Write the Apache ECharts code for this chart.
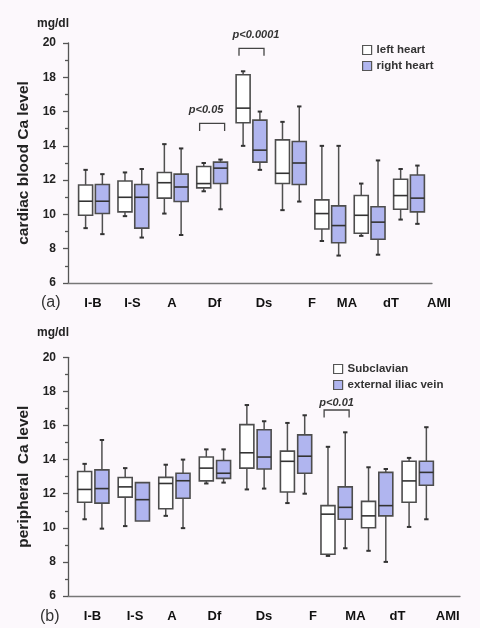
<!DOCTYPE html>
<html><head><meta charset="utf-8">
<script src="https://cdn.jsdelivr.net/npm/echarts@6/dist/echarts.min.js"></script>
<style>html,body{margin:0;padding:0;background:#fff}#c{width:480px;height:628px}</style>
</head><body><div id="c"></div>
<script>
// ---- data ----
const categoriesA = ['I-B','I-S','A','Df','Ds','F','MA','dT','AMI'];
const categoriesB = ['I-B','I-S','A','Df','Ds','F','MA','dT','AMI'];
const yTicks = [6, 8, 10, 12, 14, 16, 18, 20];
// each row: [lower whisker, Q1, median, Q3, upper whisker]  (mg/dl)
const leftHeart = [
  [9.2, 9.95, 10.77, 11.72, 12.6],
  [9.9, 10.15, 11.0, 11.95, 12.45],
  [10.05, 10.95, 11.85, 12.45, 14.1],
  [11.35, 11.55, 11.8, 12.8, 13.0],
  [14.0, 15.35, 16.2, 18.15, 18.35],
  [10.25, 11.8, 12.4, 14.35, 15.4],
  [8.45, 9.15, 10.05, 10.85, 14.0],
  [8.75, 8.9, 9.95, 11.1, 11.8],
  [9.7, 10.3, 11.1, 12.05, 12.65]
];
const rightHeart = [
  [8.85, 10.05, 10.77, 11.75, 12.35],
  [8.65, 9.2, 11.0, 11.75, 12.65],
  [8.8, 10.75, 11.6, 12.35, 13.85],
  [10.3, 11.8, 12.7, 13.05, 13.2],
  [12.6, 13.05, 13.75, 15.5, 16.0],
  [10.75, 11.75, 13.0, 14.25, 16.3],
  [7.6, 8.35, 9.35, 10.5, 14.0],
  [7.65, 8.55, 9.55, 10.45, 13.15],
  [9.45, 10.15, 10.95, 12.3, 12.85]
];
const subclavian = [
  [10.5, 11.5, 12.25, 13.3, 13.75],
  [10.1, 11.8, 12.4, 12.95, 13.5],
  [10.7, 11.12, 12.6, 12.96, 13.7],
  [12.6, 12.75, 13.5, 14.15, 14.6],
  [12.25, 13.5, 14.4, 16.05, 17.2],
  [11.45, 12.1, 13.9, 14.5, 16.15],
  [8.35, 8.45, 10.8, 11.3, 14.75],
  [8.65, 10.0, 10.7, 11.55, 13.55],
  [10.05, 11.5, 12.75, 13.9, 14.1]
];
const iliacVein = [
  [9.95, 11.45, 12.3, 13.4, 15.15],
  [10.4, 10.4, 11.65, 12.65, 12.65],
  [9.98, 11.73, 12.76, 13.2, 14.0],
  [12.65, 12.9, 13.2, 13.95, 14.6],
  [12.3, 13.45, 14.15, 15.75, 16.25],
  [12.0, 13.2, 14.2, 15.45, 16.6],
  [8.8, 10.5, 11.2, 12.4, 15.6],
  [8.0, 10.7, 11.3, 13.25, 13.45],
  [10.5, 12.5, 13.25, 13.9, 15.9]
];
// significance annotations: [seriesIndex, category index, bracket level, text]
const significance = [
  [0, 3, 15.31, 'p<0.05'],
  [0, 4, 19.69, 'p<0.0001'],
  [2, 6, 16.91, 'p<0.01']
];

// ---- styling ----
const FONT = '"Liberation Sans", Arial, sans-serif';
const labelShiftA = [-1, -0.9, -0.8, 2.4, 12.5, 21, 16.7, 21.3, 30];
const labelShiftB = [-0.8, 1.2, -2.4, -0.5, 8.5, 17, 18.8, 20.3, 30];
const annoTextStyle = [{gap: 8, dx: -6}, {gap: 8, dx: 4.5}, {gap: 2, dx: 0}];
const WHITE = '#ffffff', BLUE = '#b0b5ef';

function rows(arr) { return arr.map((r, i) => [i].concat(r)); }

function makeRender(side) {
  return function (params, api) {
    const cat = api.value(0);
    const lo = api.value(1), q1 = api.value(2), md = api.value(3), q3 = api.value(4), hi = api.value(5);
    const band = api.size([1, 0])[0];
    const cx = api.coord([cat, md])[0] + side * band * 0.213;
    const y = v => api.coord([cat, v])[1];
    const w = 14, h = w / 2, cap = 2.2;
    const wl = {stroke: '#505050', lineWidth: 1.5};
    const cl = {stroke: '#333', lineWidth: 2};
    const ch = [];
    if (hi > q3) {
      ch.push({type: 'line', shape: {x1: cx, y1: y(q3), x2: cx, y2: y(hi)}, style: wl});
      ch.push({type: 'line', shape: {x1: cx - cap, y1: y(hi), x2: cx + cap, y2: y(hi)}, style: cl});
    }
    if (lo < q1) {
      ch.push({type: 'line', shape: {x1: cx, y1: y(q1), x2: cx, y2: y(lo)}, style: wl});
      ch.push({type: 'line', shape: {x1: cx - cap, y1: y(lo), x2: cx + cap, y2: y(lo)}, style: cl});
    }
    ch.push({type: 'rect', shape: {x: cx - h, y: y(q3), width: w, height: y(q1) - y(q3)},
      style: {fill: api.visual('color'), stroke: '#4d4d4d', lineWidth: 1.6}});
    ch.push({type: 'line', shape: {x1: cx - h, y1: y(md), x2: cx + h, y2: y(md)},
      style: {stroke: '#333', lineWidth: 1.6}});
    return {type: 'group', children: ch};
  };
}

function richFor(shifts) {
  const r = {};
  shifts.forEach((s, i) => {
    r['o' + i] = {fontFamily: FONT, fontSize: 13, fontWeight: 'bold', color: '#111',
      padding: s >= 0 ? [0, 0, 0, 2 * s] : [0, -2 * s, 0, 0]};
  });
  return r;
}

function frameY(grid, name) {
  return {
    gridIndex: grid, type: 'value', min: yTicks[0], max: yTicks[yTicks.length - 1], interval: 2,
    name: name, nameLocation: 'middle', nameGap: 33,
    nameTextStyle: {fontFamily: FONT, fontSize: 15.5, fontWeight: 'bold', color: '#222'},
    axisLine: {show: true, onZero: false, lineStyle: {color: '#555', width: 1.3}},
    axisTick: {show: true, length: 5, lineStyle: {color: '#555', width: 1.3}},
    minorTick: {show: true, splitNumber: 2, length: 3, lineStyle: {color: '#555', width: 1.3}},
    axisLabel: {margin: 12, fontFamily: FONT, fontSize: 12, fontWeight: 'bold', color: '#222'},
    splitLine: {show: false}
  };
}
function frameX(grid) {
  return {gridIndex: grid, type: 'value', min: 0, max: 1,
    axisLine: {show: true, onZero: false, lineStyle: {color: '#777', width: 1.3}},
    axisTick: {show: false}, axisLabel: {show: false}, splitLine: {show: false}};
}
function dataX(grid, cats, shifts) {
  return {gridIndex: grid, type: 'category', data: cats,
    axisLine: {show: false}, axisTick: {show: false}, splitLine: {show: false},
    axisLabel: {margin: 14, interval: 0, formatter: (v, i) => '{o' + i + '|' + v + '}', rich: richFor(shifts)}};
}
function dataY(grid) {
  return {gridIndex: grid, type: 'value', min: yTicks[0], max: yTicks[yTicks.length - 1], show: false, splitLine: {show: false}};
}
const legendText = {fontFamily: FONT, fontSize: 11.5, fontWeight: 'bold', color: '#333'};
function series(name, data, axis, side, color) {
  return {name: name, type: 'custom', xAxisIndex: axis, yAxisIndex: axis,
    data: rows(data), encode: {x: 0, y: [1, 2, 3, 4, 5]},
    itemStyle: {color: color, borderColor: '#555', borderWidth: 1.2},
    renderItem: makeRender(side), silent: true};
}

const chart = echarts.init(document.getElementById('c'), null, {renderer: 'canvas'});
chart.setOption({
  backgroundColor: '#fcf8fc',
  animation: false,
  grid: [
    {left: 68, right: 48, top: 43, height: 240, outerBoundsMode: 'none'},
    {left: 74.3, right: 51.3, top: 43, height: 240, outerBoundsMode: 'none'},
    {left: 68, right: 20, top: 357.3, height: 238.7, outerBoundsMode: 'none'},
    {left: 73, right: 42, top: 357.3, height: 238.7, outerBoundsMode: 'none'}
  ],
  xAxis: [frameX(0), dataX(1, categoriesA, labelShiftA), frameX(2), dataX(3, categoriesB, labelShiftB)],
  yAxis: [frameY(0, 'cardiac blood Ca level'), dataY(1), frameY(2, 'peripheral  Ca level'), dataY(3)],
  legend: [
    {left: 357, top: 39, orient: 'vertical', itemWidth: 9, itemHeight: 9, itemGap: 4, icon: 'rect',
      selectedMode: false, textStyle: legendText, itemStyle: {borderColor: '#555', borderWidth: 1.2},
      data: ['left heart', 'right heart']},
    {left: 328, top: 358, orient: 'vertical', itemWidth: 9, itemHeight: 9, itemGap: 4, icon: 'rect',
      selectedMode: false, textStyle: legendText, itemStyle: {borderColor: '#555', borderWidth: 1.2},
      data: ['Subclavian', 'external iliac vein']}
  ],
  series: [
    series('left heart', leftHeart, 1, -1, WHITE),
    series('right heart', rightHeart, 1, 1, BLUE),
    series('Subclavian', subclavian, 3, -1, WHITE),
    series('external iliac vein', iliacVein, 3, 1, BLUE)
  ]
});

const g = [
  {type: 'text', x: 37, y: 24, style: {text: 'mg/dl', font: 'bold 12px ' + FONT, fill: '#222', verticalAlign: 'middle'}},
  {type: 'text', x: 37, y: 333, style: {text: 'mg/dl', font: 'bold 12px ' + FONT, fill: '#222', verticalAlign: 'middle'}},
  {type: 'text', x: 41, y: 303, style: {text: '(a)', font: '16px ' + FONT, fill: '#333', verticalAlign: 'middle'}},
  {type: 'text', x: 40, y: 617, style: {text: '(b)', font: '16px ' + FONT, fill: '#333', verticalAlign: 'middle'}}
];
significance.forEach((a, k) => {
  const p = chart.convertToPixel({seriesIndex: a[0]}, [a[1], a[2]]);
  const x = p[0], y = p[1], hw = 12.5;
  g.push({type: 'polyline', shape: {points: [[x - hw, y + 7.5], [x - hw, y], [x + hw, y], [x + hw, y + 7.5]]},
    style: {stroke: '#444', lineWidth: 1.3, fill: null}});
  g.push({type: 'text', x: x + annoTextStyle[k].dx, y: y - annoTextStyle[k].gap,
    style: {text: a[3], font: 'italic bold 11px ' + FONT, fill: '#333', align: 'center', verticalAlign: 'bottom'}});
});
chart.setOption({graphic: g});
</script></body></html>
